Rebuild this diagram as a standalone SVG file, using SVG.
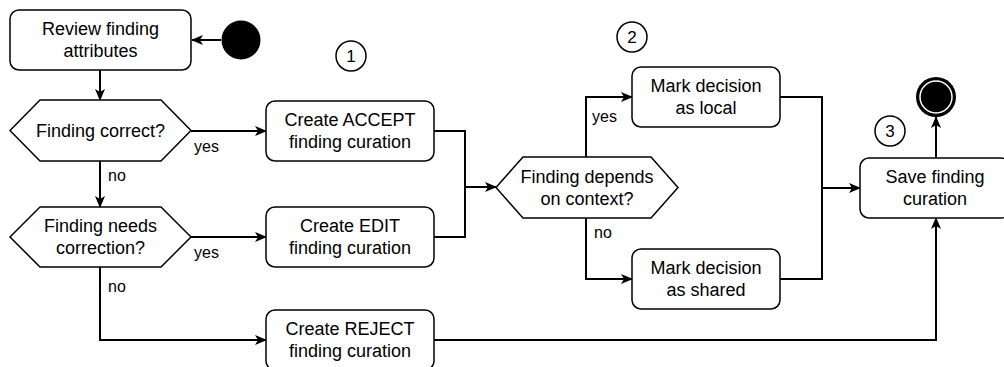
<svg xmlns="http://www.w3.org/2000/svg" width="1004" height="367" viewBox="0 0 1004 367">
<style>
.box{fill:#fff;stroke:#000;stroke-width:1.5}
.t{font-family:"Liberation Sans",Arial,sans-serif;font-size:18px;fill:#000;text-anchor:middle}
.lbl{font-family:"Liberation Sans",Arial,sans-serif;font-size:16px;fill:#000}
.num{font-family:"Liberation Sans",Arial,sans-serif;font-size:17px;fill:#000;text-anchor:middle}
.e{fill:none;stroke:#000;stroke-width:2}
.ea{fill:none;stroke:#000;stroke-width:2;marker-end:url(#arr)}
</style>
<defs>
<marker id="arr" viewBox="0 0 12 10" refX="11" refY="5" markerWidth="12" markerHeight="10" markerUnits="userSpaceOnUse" orient="auto">
<path d="M0,0 L12,5 L0,10 L3,5 Z" fill="#000"/>
</marker>
</defs>
<rect width="1004" height="367" fill="#fff"/>
<g id="connectors">
<path class="ea" d="M221,40 H192"/>
<path class="ea" d="M100,70 V100"/>
<path class="ea" d="M191,131 H266"/>
<path class="ea" d="M100,161 V207"/>
<path class="ea" d="M191,237 H266"/>
<path class="ea" d="M100,267 V340 H266"/>
<path class="ea" d="M434,131 H465 V187 H496"/>
<path class="e" d="M434,237 H465 V187"/>
<path class="ea" d="M586,157 V97 H632"/>
<path class="ea" d="M586,218 V279 H632"/>
<path class="ea" d="M780,97 H822 V188 H860"/>
<path class="e" d="M780,279 H822 V188"/>
<path class="ea" d="M434,340 H936 V218"/>
<path class="ea" d="M936,158 V117"/>
<text class="lbl" x="194" y="152">yes</text>
<text class="lbl" x="108" y="181">no</text>
<text class="lbl" x="194" y="258">yes</text>
<text class="lbl" x="108" y="292">no</text>
<text class="lbl" x="592" y="122">yes</text>
<text class="lbl" x="594" y="238">no</text>
</g>
<g id="start"><circle cx="241" cy="40" r="19.5" fill="#000"/></g>
<g id="review">
<rect class="box" x="10" y="10" width="181" height="60" rx="9"/>
<text class="t" x="100.5" y="35">Review finding</text>
<text class="t" x="100.5" y="57">attributes</text>
</g>
<g id="dec-correct">
<polygon class="box" points="10,130.5 40,100 161,100 191,130.5 161,161 40,161"/>
<text class="t" x="100.5" y="137">Finding correct?</text>
</g>
<g id="dec-needs">
<polygon class="box" points="10,237 40,207 161,207 191,237 161,267 40,267"/>
<text class="t" x="100.5" y="232">Finding needs</text>
<text class="t" x="100.5" y="254">correction?</text>
</g>
<g id="accept">
<rect class="box" x="266" y="101" width="168" height="60" rx="9"/>
<text class="t" x="350" y="126">Create ACCEPT</text>
<text class="t" x="350" y="148">finding curation</text>
</g>
<g id="edit">
<rect class="box" x="266" y="207" width="168" height="60" rx="9"/>
<text class="t" x="350" y="232">Create EDIT</text>
<text class="t" x="350" y="254">finding curation</text>
</g>
<g id="reject">
<rect class="box" x="266" y="310" width="168" height="60" rx="9"/>
<text class="t" x="350" y="335">Create REJECT</text>
<text class="t" x="350" y="357">finding curation</text>
</g>
<g id="dec-context">
<polygon class="box" points="496,187.5 523,157 651,157 678,187.5 651,218 523,218"/>
<text class="t" x="587" y="182.5">Finding depends</text>
<text class="t" x="587" y="204.5">on context?</text>
</g>
<g id="local">
<rect class="box" x="632" y="67" width="148" height="60" rx="9"/>
<text class="t" x="706" y="92">Mark decision</text>
<text class="t" x="706" y="114">as local</text>
</g>
<g id="shared">
<rect class="box" x="632" y="249" width="148" height="60" rx="9"/>
<text class="t" x="706" y="274">Mark decision</text>
<text class="t" x="706" y="296">as shared</text>
</g>
<g id="save">
<rect class="box" x="860" y="158" width="150" height="60" rx="9"/>
<text class="t" x="935" y="183">Save finding</text>
<text class="t" x="935" y="205">curation</text>
</g>
<g id="end">
<circle cx="936" cy="97" r="20" fill="#000"/>
<circle cx="936" cy="97" r="16" fill="#000" stroke="#fff" stroke-width="1.5"/>
</g>
<g id="step1"><circle class="box" cx="351" cy="56" r="15"/><text class="num" x="351" y="62">1</text></g>
<g id="step2"><circle class="box" cx="632" cy="37" r="15"/><text class="num" x="632" y="43">2</text></g>
<g id="step3"><circle class="box" cx="890" cy="131" r="15"/><text class="num" x="890" y="137">3</text></g>
</svg>
